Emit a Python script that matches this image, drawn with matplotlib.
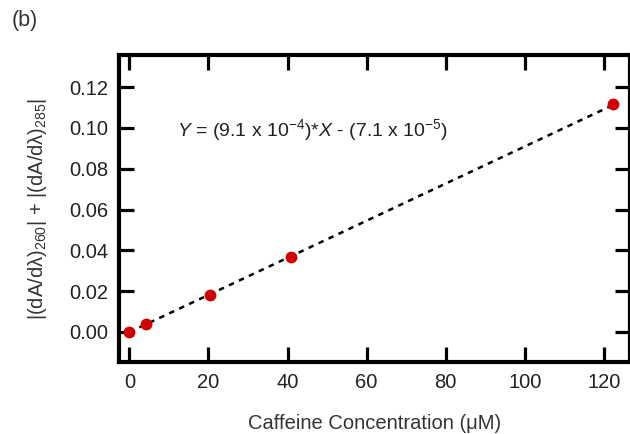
import matplotlib
matplotlib.use("Agg")
import matplotlib.pyplot as plt
import numpy as np

plt.rcParams['font.family'] = ['Liberation Sans', 'DejaVu Sans']
plt.rcParams['mathtext.fontset'] = 'custom'
plt.rcParams['mathtext.rm'] = 'Liberation Sans'
plt.rcParams['mathtext.it'] = 'Liberation Sans:italic'
plt.rcParams['mathtext.bf'] = 'Liberation Sans:bold'

# Data
conc_uM = [0.0, 4.1, 20.4, 40.8, 122.4]
signal = [0.0002, 0.0040, 0.0182, 0.0368, 0.1116]
slope = 9.1e-4
intercept = -7.1e-5
x_ticks = [0, 20, 40, 60, 80, 100, 120]
y_ticks = [0.00, 0.02, 0.04, 0.06, 0.08, 0.10, 0.12]

fig = plt.figure(figsize=(6.3, 4.34), dpi=100)
ax = fig.add_axes([0.189, 0.166, 0.811, 0.707])

fit_x = np.array([conc_uM[0], conc_uM[-1]])
ax.plot(fit_x, slope * fit_x + intercept, color='black', lw=1.8,
        linestyle=(0, (2.2, 2.2)), zorder=2)
ax.plot(conc_uM, signal, 'o', color='#d00000', markersize=7.5, zorder=3)

ax.set_xlim(-2.6, 126.6)
ax.set_ylim(-0.0147, 0.1357)
ax.set_xticks(x_ticks)
ax.set_yticks(y_ticks)
ax.set_yticklabels([f"{v:.2f}" for v in y_ticks])

for s in ax.spines.values():
    s.set_linewidth(3.0)
ax.tick_params(direction='in', length=11, width=2.3, top=True, right=True,
               labelsize=14.5, labelcolor='#222222', pad=8)

ax.set_xlabel('Caffeine Concentration (μM)', fontsize=14.5, color='#333333', labelpad=16)
ax.set_ylabel('|(dA/dλ)$_{260}$| + |(dA/dλ)$_{285}$|',
              fontsize=14.5, color='#333333', labelpad=14)

ax.text(0.113, 0.756,
        r'$Y$ = (9.1 x 10$^{-4}$)*$X$ - (7.1 x 10$^{-5}$)',
        transform=ax.transAxes, fontsize=14, color='#222222', va='center')

fig.text(0.019, 0.953, '(b)', fontsize=15.5, color='#333333', va='center')

fig.savefig('out.png', dpi=100)
